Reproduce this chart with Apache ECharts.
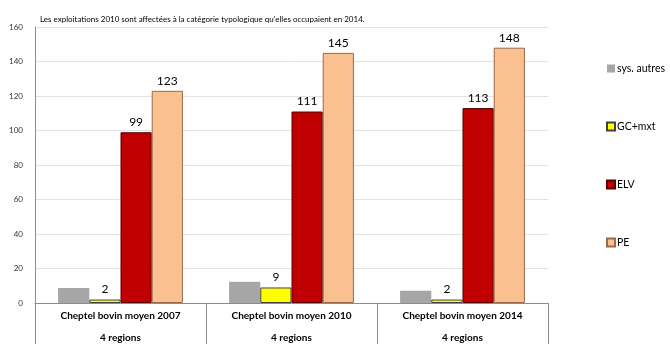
<!DOCTYPE html>
<html lang="fr">
<head>
    <meta charset="UTF-8">
    <title>Cheptel bovin moyen</title>
    <script src="https://cdn.jsdelivr.net/npm/echarts@6/dist/echarts.min.js"></script>
</head>
<body style="margin:0">
<div id="main" style="width: 670px;height:344px;"></div>
<script type="text/javascript">
    var categories = ['Cheptel bovin moyen 2007\n4 regions', 'Cheptel bovin moyen 2010\n4 regions', 'Cheptel bovin moyen 2014\n4 regions'];
    var sysAutres = [8.7, 12.3, 7.1];
    var gcMxt = [2, 9, 2];
    var elv = [99, 111, 113];
    var pe = [123, 145, 148];

    var myChart = echarts.init(document.getElementById('main'));
    var font = 'Lato, "Liberation Sans", sans-serif';

    function barLabel(show) {
        return {show: show, position: 'top', color: '#000', fontSize: 12, fontFamily: font, distance: 4};
    }

    var option = {
        animation: false,
        textStyle: {fontFamily: font},
        title: {
            text: "Les exploitations 2010 sont affectées à la catégorie typologique qu'elles occupaient en 2014.",
            left: 35, top: 10,
            textStyle: {fontSize: 8, fontWeight: 'normal', color: '#000', fontFamily: font}
        },
        legend: {
            orient: 'vertical',
            left: 601, top: 58,
            icon: 'rect',
            itemWidth: 8, itemHeight: 8, itemGap: 47,
            textStyle: {fontSize: 10.5, color: '#000', fontFamily: font, padding: [0, 0, 0, -3]},
            data: ['sys. autres', 'GC+mxt', 'ELV', 'PE']
        },
        grid: {left: 35, right: 122, top: 27, bottom: 41, outerBoundsMode: 'none'},
        xAxis: {
            type: 'category',
            data: categories,
            axisLine: {lineStyle: {color: '#8c8c8c'}},
            axisTick: {show: true, length: 41, lineStyle: {color: '#8c8c8c'}},
            axisLabel: {fontSize: 10, fontWeight: 'bold', color: '#000', lineHeight: 22, margin: 2, fontFamily: font}
        },
        yAxis: {
            type: 'value',
            min: 0, max: 160, interval: 20,
            axisLine: {show: true, lineStyle: {color: '#8c8c8c'}},
            axisTick: {show: false},
            axisLabel: {fontSize: 8, color: '#333', margin: 12, fontFamily: font},
            splitLine: {lineStyle: {color: '#e3e3e3'}}
        },
        series: [
            {name: 'sys. autres', type: 'bar', data: sysAutres, barGap: '0%', barCategoryGap: '27%',
             itemStyle: {color: '#a6a6a6'}, label: barLabel(false)},
            {name: 'GC+mxt', type: 'bar', data: gcMxt,
             itemStyle: {color: '#ffff00', borderColor: '#404040', borderWidth: 1}, label: barLabel(true)},
            {name: 'ELV', type: 'bar', data: elv,
             itemStyle: {color: '#c00000', borderColor: '#5a0000', borderWidth: 1}, label: barLabel(true)},
            {name: 'PE', type: 'bar', data: pe,
             itemStyle: {color: '#fac090', borderColor: '#9a6a4a', borderWidth: 1}, label: barLabel(true)}
        ]
    };
    myChart.setOption(option);
</script>
</body>
</html>
